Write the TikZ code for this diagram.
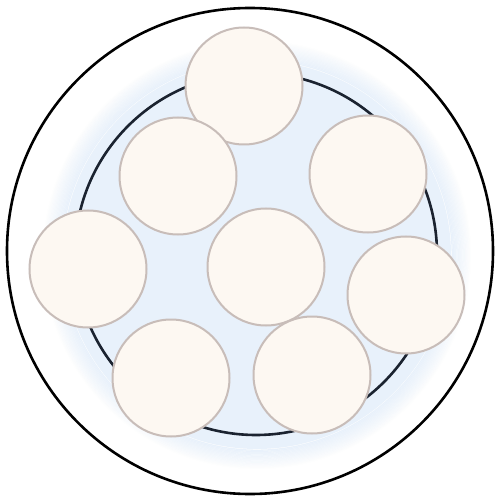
\documentclass[tikz,border=0pt]{standalone}
\usepackage{tikz}
\definecolor{bluefill}{HTML}{E8F1FB}
\definecolor{peach}{HTML}{FDF8F2}
\definecolor{rimgray}{HTML}{C8BDB9}
\definecolor{navy}{HTML}{1B2330}
\tikzset{
  strand/.style={circle, draw=rimgray, line width=2pt, fill=peach, minimum size=117pt, inner sep=0pt},
  ringline/.style={draw=black, line width=2.6pt},
}
\begin{document}
\begin{tikzpicture}[x=1pt,y=-1pt]
\useasboundingbox (0,0) rectangle (501,500);
\fill[white] (0,0) rectangle (501,500);
\coordinate (O) at (250,251);
\coordinate (B) at (257,255);
% soft blue filler
\fill[bluefill] (B) circle (194);
\foreach \i in {1,...,16}{
  \pgfmathsetmacro{\op}{1-\i/17}
  \draw[bluefill, opacity=\op, line width=1.3pt] (B) circle ({194+1.2*\i});
}
% outer sheath
\draw[ringline] (O) circle (243);
% inner binder
\draw[draw=navy, line width=2.6pt] (256,254) circle (181);
% strands
\node[strand] (s1) at (244,86) {};
\node[strand] (s2) at (178,176) {};
\node[strand] (s3) at (368,174) {};
\node[strand] (s4) at (88,269) {};
\node[strand] (s5) at (266,267) {};
\node[strand] (s6) at (406,295) {};
\node[strand] (s7) at (171,378) {};
\node[strand] (s8) at (312,375) {};
\end{tikzpicture}
\end{document}
